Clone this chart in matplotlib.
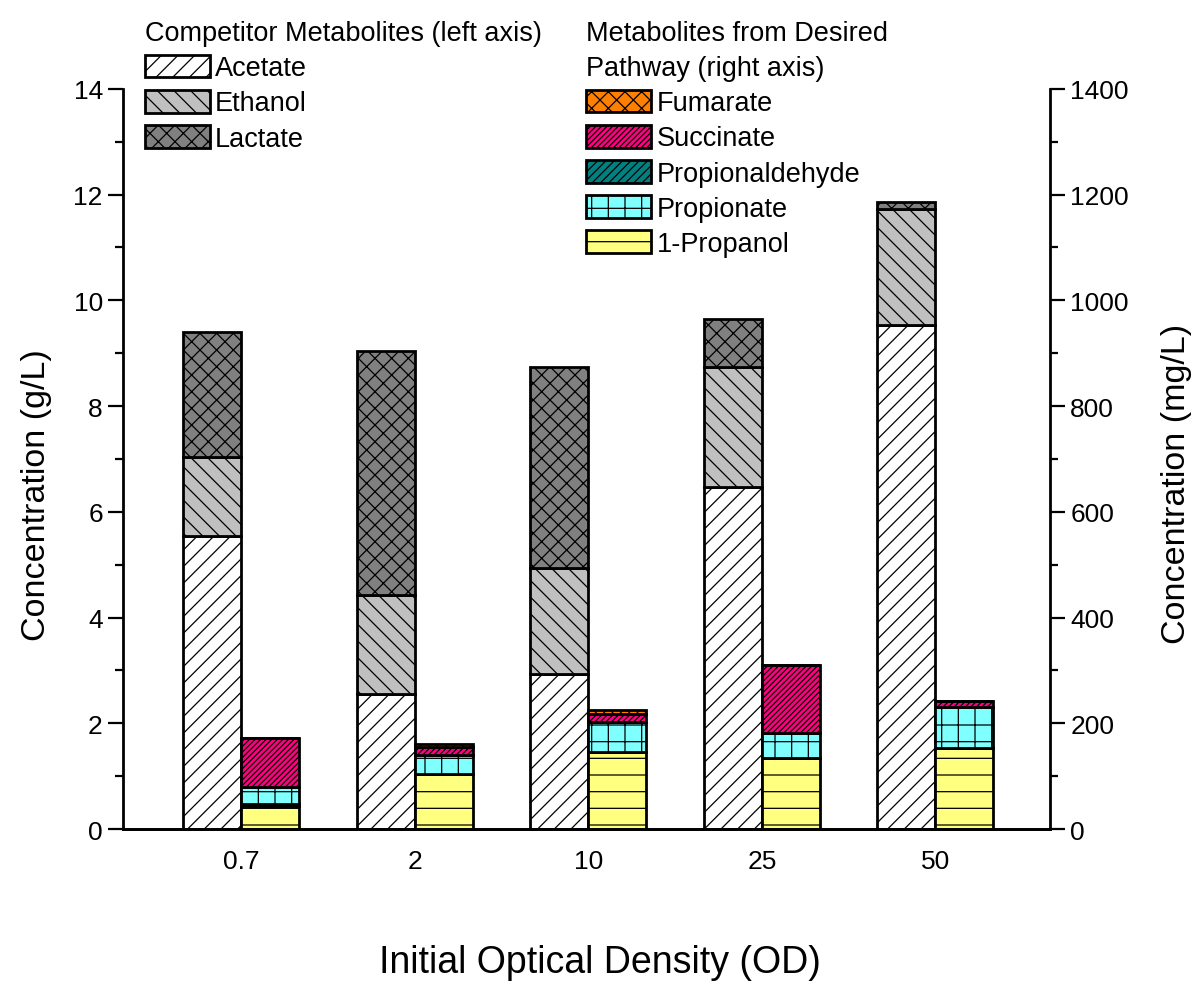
import matplotlib
matplotlib.use('Agg')
import matplotlib.pyplot as plt
import numpy as np

plt.rcParams['font.family'] = ['Liberation Sans', 'DejaVu Sans']
plt.rcParams['hatch.linewidth'] = 0.9

od_labels = ['0.7', '2', '10', '25', '50']

# competitor metabolites, g/L (left axis)
acetate = [5.54, 2.55, 2.93, 6.47, 9.53]
ethanol = [1.49, 1.88, 2.01, 2.26, 2.20]
lactate = [2.38, 4.61, 3.79, 0.91, 0.13]

# desired pathway metabolites, mg/L (right axis)
propanol = [43, 104, 145, 134, 153]
propionaldehyde = [5, 0, 0, 0, 0]
propionate = [31, 36, 58, 47, 78]
succinate = [93, 15, 14, 129, 11]
fumarate = [0, 6, 9, 0, 0]

left_series = [
    ('Acetate', acetate, 'white', '//'),
    ('Ethanol', ethanol, '#c0c0c0', '\\\\'),
    ('Lactate', lactate, '#808080', 'xx'),
]
right_series = [
    ('1-Propanol', propanol, '#ffff80', '-'),
    ('Propionaldehyde', propionaldehyde, '#008080', '////'),
    ('Propionate', propionate, '#80ffff', '+'),
    ('Succinate', succinate, '#ff0080', '//////'),
    ('Fumarate', fumarate, '#ff8000', 'xx'),
]

x = np.arange(len(od_labels))
width = 0.334
edge_lw = 2.0

fig = plt.figure(figsize=(12, 9.87), dpi=100)
ax = fig.add_axes([0.1025, 0.159, 0.7725, 0.75])
ax2 = ax.twinx()

handles_left = {}
bottom = np.zeros(len(x))
for name, vals, color, hatch in left_series:
    b = ax.bar(x - width / 2, vals, width, bottom=bottom, color=color,
               edgecolor='black', linewidth=edge_lw, hatch=hatch, label=name)
    handles_left[name] = b
    bottom += np.array(vals)

handles_right = {}
bottom = np.zeros(len(x))
for name, vals, color, hatch in right_series:
    b = ax2.bar(x + width / 2, vals, width, bottom=bottom, color=color,
                edgecolor='black', linewidth=edge_lw, hatch=hatch, label=name)
    handles_right[name] = b
    bottom += np.array(vals)

ax.set_xlim(-0.68, 4.66)
ax.set_ylim(0, 14)
ax2.set_ylim(0, 1400)
ax.set_xticks(x)
ax.set_xticklabels(od_labels)
ax.set_yticks(np.arange(0, 15, 2))
ax.set_yticks(np.arange(1, 14, 2), minor=True)
ax2.set_yticks(np.arange(0, 1401, 200))
ax2.set_yticks(np.arange(100, 1400, 200), minor=True)

for a in (ax, ax2):
    a.spines['top'].set_visible(False)
    for s in a.spines.values():
        s.set_linewidth(2)
ax.spines['right'].set_visible(False)
ax2.spines['left'].set_visible(False)

ax.tick_params(axis='x', length=0, labelsize=19, pad=14)
ax.tick_params(axis='y', which='major', length=11, width=1.6, labelsize=19, direction='out')
ax.tick_params(axis='y', which='minor', length=6, width=1.6)
ax2.tick_params(axis='y', which='major', length=11, width=1.6, labelsize=19, direction='out')
ax2.tick_params(axis='y', which='minor', length=6, width=1.6)

ax.set_ylabel('Concentration (g/L)', fontsize=24.5)
ax2.set_ylabel('Concentration (mg/L)', fontsize=24.5)
ax.yaxis.set_label_coords(-0.077, 0.453)
ax2.yaxis.set_label_coords(1.12, 0.468)
ax.set_xlabel('Initial Optical Density (OD)', fontsize=27)
ax.xaxis.set_label_coords(0.515, -0.155)

leg_kw = dict(loc='upper left', frameon=False, fontsize=19.5, title_fontsize=19.5,
              handlelength=2.4, handleheight=0.92, handletextpad=0.2,
              labelspacing=0.31, alignment='left', borderpad=0.2,
              borderaxespad=0)
leg1 = fig.legend([handles_left[n] for n in ['Acetate', 'Ethanol', 'Lactate']],
                  ['Acetate', 'Ethanol', 'Lactate'],
                  title='Competitor Metabolites (left axis)',
                  bbox_to_anchor=(0.116, 0.984), **leg_kw)
right_names = ['Fumarate', 'Succinate', 'Propionaldehyde', 'Propionate', '1-Propanol']
leg2 = fig.legend([handles_right[n] for n in right_names], right_names,
                  title='Metabolites from Desired\nPathway (right axis)',
                  bbox_to_anchor=(0.484, 0.984), **leg_kw)
leg2.get_title().set_linespacing(1.45)

fig.savefig('out.png', dpi=100)
